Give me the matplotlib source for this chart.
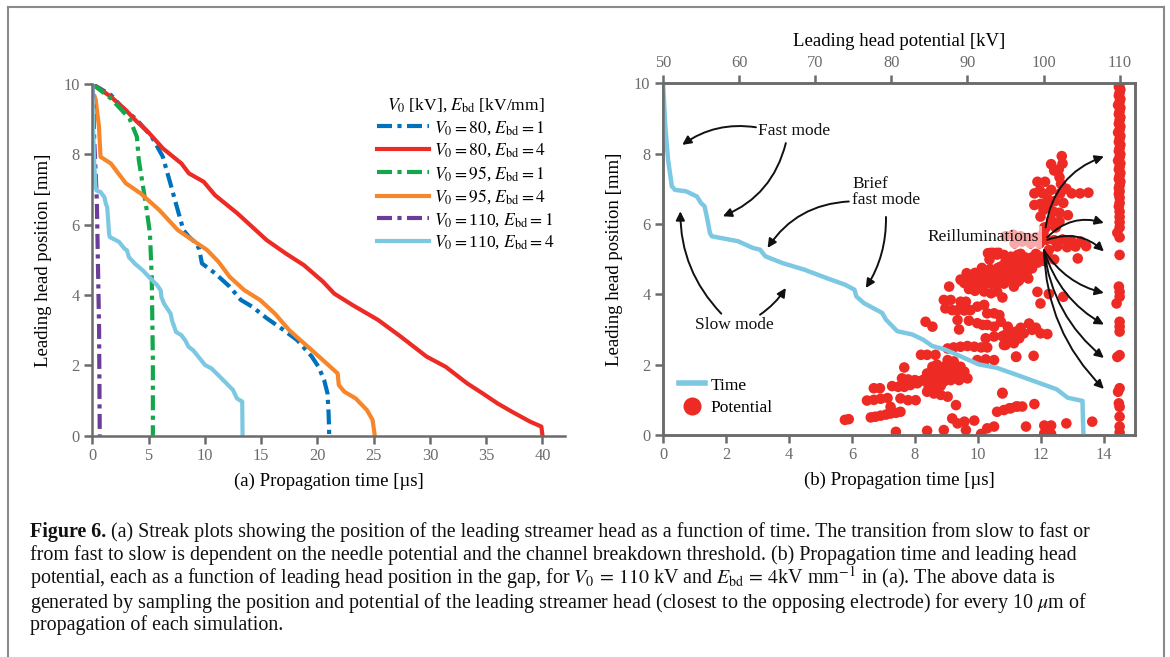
import numpy as np
import matplotlib.pyplot as plt
from matplotlib.lines import Line2D

plt.rcParams['font.family'] = ['Liberation Serif', 'DejaVu Serif']
plt.rcParams['mathtext.fontset'] = 'stix'

# (a) streak plots: propagation time [us] vs leading head position [mm]
t_80_1 = [0, 0.8, 1.65, 2.6, 3.96, 5.28, 6.27, 6.6, 6.93, 7.43, 8.09, 8.6, 9.24, 9.5,
          9.74, 10.9, 12.2, 13.2, 14.2, 15.5, 16.8, 18.2, 19.5, 20.1, 20.6, 20.9, 21.0, 21.05]
x_80_1 = [10, 9.85, 9.69, 9.35, 8.98, 8.5, 7.93, 7.55, 7.18, 6.6, 5.85, 5.65, 5.47, 5.3,
          4.9, 4.62, 4.24, 3.86, 3.67, 3.34, 3.05, 2.72, 2.25, 1.96, 1.58, 1.2, 0.6, 0]
t_80_4 = [0, 1.65, 2.97, 3.96, 4.95, 6.27, 7.92, 8.58, 9.9, 10.9, 12.9, 14.2, 15.5, 17.2,
          18.8, 20.5, 21.5, 23.1, 25.4, 27.4, 29.7, 31.4, 33.3, 34.7, 36.0, 37.3, 38.9, 39.9, 40.0]
x_80_4 = [10, 9.64, 9.26, 8.93, 8.64, 8.17, 7.74, 7.46, 7.22, 6.84, 6.32, 5.94, 5.56, 5.18,
          4.85, 4.38, 4.04, 3.72, 3.29, 2.82, 2.25, 1.96, 1.49, 1.20, 0.92, 0.68, 0.40, 0.26, 0]
t_95_1 = [0, 1.65, 3.3, 3.96, 4.13, 4.46, 4.79, 5.12, 5.28, 5.38, 5.38]
x_95_1 = [10, 9.59, 9.02, 8.5, 7.84, 7.18, 6.51, 5.76, 4.52, 2.15, 0]
t_95_4 = [0.2, 0.3, 0.59, 0.73, 1.65, 2.97, 4.29, 5.94, 7.59, 8.91, 10.2, 11.2, 12.2, 13.5,
          14.9, 16.2, 17.5, 18.8, 20.0, 20.8, 21.8, 21.9, 22.4, 23.4, 24.4, 24.9, 25.1]
x_95_4 = [9.65, 9.55, 8.79, 7.93, 7.74, 7.18, 6.89, 6.42, 5.85, 5.56, 5.28, 4.95, 4.52, 4.14,
          3.86, 3.48, 3.0, 2.63, 2.29, 2.06, 1.77, 1.44, 1.25, 1.06, 0.73, 0.45, 0]
t_110_1 = [0, 0.1, 0.17, 0.4, 0.6, 0.66]
x_110_1 = [10, 9.3, 8.4, 6.7, 3.1, 0]
t_110_4 = [0, 0.08, 0.16, 0.28, 0.38, 0.73, 1.08, 1.2, 1.32, 1.41, 1.49, 1.55, 2.38, 2.85,
           3.08, 3.25, 3.79, 4.49, 5.2, 5.79, 6.08, 6.14, 6.38, 6.96, 7.08, 7.44, 7.91, 8.26,
           8.55, 8.96, 9.44, 10.02, 10.6, 11.2, 11.79, 12.5, 12.85, 13.32, 13.35]
x_110_4 = [10, 8.68, 7.82, 7.07, 6.97, 6.93, 6.78, 6.6, 6.5, 6.12, 5.74, 5.65, 5.51, 5.32,
           5.27, 5.08, 4.89, 4.70, 4.46, 4.27, 4.13, 3.94, 3.75, 3.47, 3.28, 2.95, 2.86, 2.71,
           2.53, 2.43, 2.24, 2.01, 1.91, 1.72, 1.53, 1.30, 1.06, 0.97, 0]

# (b) leading head potential [kV] vs position [mm], V0 = 110 kV, Ebd = 4 kV/mm
pot_kv = [73.9, 74.4, 77.3, 77.9, 78.6, 79.3, 79.9, 80.6, 81.2, 80.6, 84.7, 86.9, 88.0, 88.7,
          89.6, 90.9, 89.8, 92.6, 93.5, 91.8, 93.9, 94.8, 95.7, 96.6, 88.5, 94.6,
          77.7, 78.5, 76.8, 77.7, 78.6, 79.5, 79.9, 80.1, 80.9, 81.7, 82.5, 83.4, 81.7, 81.4,
          82.2, 83.1, 83.9, 81.2, 82.2, 83.2, 84.7, 85.6, 86.5, 87.4, 84.7, 85.4, 86.1, 85.2,
          86.1, 86.7, 87.4, 88.0, 88.7, 86.9, 87.8, 88.9, 85.8, 83.9, 84.7, 85.8, 87.4, 88.2,
          89.1, 90.0, 89.6, 84.5, 85.4, 88.7, 88.9, 90.2, 91.3, 92.0, 92.6, 93.5, 92.4, 93.5,
          94.6, 95.7, 96.8, 87.4, 88.2, 89.1, 90.0, 90.9, 91.8, 92.6, 91.3, 92.4, 93.5, 96.4,
          95.0, 96.1,
          86.9, 87.8, 87.1, 88.0, 89.1, 89.8, 88.7, 89.6, 90.4, 91.3, 92.2, 92.6, 93.5, 94.2,
          87.6, 89.3, 91.1, 92.0, 92.8, 93.7, 94.6, 95.5, 91.3, 92.2, 93.1, 93.9, 94.8, 96.1,
          92.2, 93.1, 93.9, 94.6, 95.0, 96.4, 94.4, 89.1, 91.0, 91.9, 92.9, 93.9, 92.7, 94.9,
          95.9, 90.6, 89.6,
          102.4, 102.5, 101.4, 102.1, 99.2, 100.2, 102.3, 98.8, 99.9, 101.0, 102.2, 103.7,
          104.8, 105.9, 98.8, 99.6, 100.7, 102.1, 103.2, 99.6, 101.0, 102.1, 100.1, 101.6,
          95.0, 96.0, 97.0, 98.0, 99.0, 100.0, 100.3, 100.4, 99.5, 98.3, 97.2, 96.2, 94.0, 93.2,
          101.4, 102.5, 103.6, 104.9, 105.6, 101.8, 103.1, 104.2, 104.5, 100.7,
          94.8, 95.7, 96.6, 97.5, 98.5, 99.6, 100.5, 101.4, 95.0, 96.1, 97.0, 98.1, 99.2, 95.3,
          96.4, 97.4, 98.5, 94.8, 96.6, 99.2, 99.6, 100.7, 102.6,
          94.4, 95.3, 96.4, 97.4, 98.1, 98.5, 99.6, 100.5, 95.7, 94.8, 96.4, 98.7,
          94.6, 95.5, 96.4, 97.2, 98.8, 97.7, 100.1, 101.0, 103.0, 100.1, 101.0, 106.4,
          110.0, 109.9, 110.1, 110.0, 109.9, 110.1, 110.0, 109.8, 110.1, 110.0, 109.9, 110.1,
          110.0, 109.9, 110.1, 110.0, 109.8, 110.1, 110.0, 109.9, 110.1, 110.0, 109.9, 110.1,
          110.0, 109.8, 110.1, 110.0, 109.9, 110.1, 110.0, 109.9, 110.1, 110.0, 109.9, 110.0,
          109.9, 110.0, 110.0, 109.9, 110.0, 110.0, 110.0, 110.0, 109.7, 110.0, 110.0, 109.9,
          110.0, 110.0, 109.6, 110.0, 110.0, 110.0,
          110.0, 109.7, 110.0, 109.8, 109.9, 110.0, 110.0, 110.0, 110.0,
          90.5, 91.5, 92.5, 93.4, 94.2, 95.0, 95.8, 96.5, 97.2, 97.8, 93.0, 94.0, 95.2, 96.0,
          96.8, 97.6, 90.2, 91.0, 91.8, 89.9,
          85.5, 86.3, 87.0, 87.6, 84.9, 85.7, 86.5, 88.3, 84.3, 86.0, 87.0, 88.0,
          100.6, 101.5, 100.0, 101.3, 102.6, 103.0, 99.5, 102.0, 101.0,
          96.0, 97.0, 98.0, 99.0, 100.0, 95.5, 96.8, 98.0,
          95.0, 96.0, 97.0, 99.0]
pot_mm = [0.43, 0.45, 0.50, 0.52, 0.55, 0.58, 0.61, 0.63, 0.66, 0.09, 0.12, 0.14, 0.47, 0.33,
          0.38, 0.41, 0.14, 0.19, 0.24, 0.03, 0.66, 0.71, 0.76, 0.81, 0.85, 1.20,
          1.33, 1.33, 0.98, 1.00, 1.03, 1.05, 0.80, 1.39, 1.37, 1.37, 1.42, 1.47, 1.92, 1.61,
          1.58, 1.56, 1.54, 1.04, 0.99, 0.99, 1.23, 1.18, 1.14, 1.09, 1.75, 1.94, 1.85, 1.56,
          1.66, 1.75, 1.85, 1.71, 1.75, 1.52, 1.56, 1.56, 1.47, 2.28, 2.28, 2.28, 2.13, 2.09,
          1.94, 1.61, 1.80, 3.22, 3.08, 3.27, 3.00, 3.25, 3.18, 3.13, 3.13, 3.08, 2.75, 2.80,
          2.81, 2.81, 2.75, 2.46, 2.49, 2.51, 2.53, 2.51, 2.49, 2.49, 2.13, 2.15, 2.13, 2.23,
          2.56, 2.61,
          3.84, 3.84, 3.60, 3.55, 3.79, 3.79, 3.55, 3.54, 3.55, 3.65, 3.70, 3.46, 3.46, 3.41,
          4.22, 4.39, 4.58, 4.60, 4.55, 4.60, 4.55, 4.60, 4.31, 4.27, 4.31, 4.27, 4.31, 4.22,
          4.08, 4.03, 4.08, 3.91, 4.93, 4.83, 4.79, 4.42, 4.61, 4.75, 4.99, 5.13, 5.17, 4.61,
          4.89, 4.23, 4.32,
          7.93, 7.72, 7.52, 7.33, 7.20, 7.20, 7.14, 6.87, 6.87, 6.97, 6.87, 6.87,
          6.87, 6.89, 6.54, 6.57, 6.49, 6.32, 6.25, 6.21, 6.11, 6.07, 5.90, 5.90,
          5.65, 5.70, 5.65, 5.60, 5.62, 5.75, 5.90, 5.55, 5.45, 5.45, 5.50, 5.45, 5.20, 5.20,
          5.54, 5.56, 5.54, 5.50, 5.37, 5.36, 5.34, 5.36, 5.02, 5.26,
          5.12, 5.07, 5.12, 5.02, 5.05, 5.07, 5.12, 4.99, 4.83, 4.79, 4.86, 4.88, 4.90, 4.55,
          4.60, 4.64, 4.74, 4.31, 4.36, 4.07, 3.74, 4.01, 3.93,
          3.22, 3.08, 2.94, 2.89, 3.17, 2.99, 2.89, 2.87, 2.70, 2.56, 2.22, 2.25,
          1.18, 0.76, 0.81, 0.81, 0.88, 0.24, 0.27, 0.27, 0.33, 0.05, 0.03, 0.38,
          9.98, 9.9, 9.82, 9.73, 9.65, 9.55, 9.47, 9.38, 9.3, 9.2, 9.12, 9.03,
          8.95, 8.85, 8.77, 8.68, 8.6, 8.5, 8.42, 8.33, 8.25, 8.15, 8.07, 7.98,
          7.9, 7.8, 7.72, 7.63, 7.55, 7.45, 7.37, 7.28, 7.2, 7.1, 7.02, 6.93,
          6.85, 6.75, 6.6, 6.5, 6.35, 6.2, 6.05, 5.9, 5.75, 5.62, 5.12, 4.22,
          4.07, 3.93, 3.74, 3.22, 3.08, 2.94,
          2.27, 2.22, 1.33, 1.23, 0.9, 0.8, 0.52, 0.24, 0.07,
          4.45, 4.45, 4.45, 4.45, 4.42, 4.40, 4.45, 4.55, 4.70, 4.62, 4.72, 4.75, 4.70, 4.95,
          5.00, 5.05, 4.15, 4.10, 4.18, 4.60,
          1.65, 1.55, 1.65, 1.72, 1.40, 1.35, 1.40, 1.62, 1.58, 2.00, 1.95, 1.90,
          6.70, 6.65, 6.40, 6.35, 6.60, 7.00, 6.95, 7.55, 7.70,
          4.95, 5.15, 4.95, 5.15, 4.95, 4.65, 4.40, 4.45,
          2.85, 2.80, 3.05, 3.05]

pot_lim = (50, 112.07)   # 110 kV sits at 14.5 us on the time axis

gray = '#6b6b6b'
c_blue, c_red, c_green = '#0072BD', '#EE2A24', '#12A84A'
c_orange, c_purple, c_sky = '#F7862A', '#6A3D9A', '#7CC8E2'
dashdot = (0, (3.6, 1.3, 1.0, 1.3))

fig = plt.figure(figsize=(11.7, 6.57), dpi=100)

# ---------- (a)
ax1 = fig.add_axes([0.0789, 0.3368, 0.404, 0.5353])
ax1.plot(t_80_1, x_80_1, color=c_blue, lw=3, ls=dashdot, label=r'$V_0 = 80$, $E_{\rm bd} = 1$')
ax1.plot(t_80_4, x_80_4, color=c_red, lw=3, label=r'$V_0 = 80$, $E_{\rm bd} = 4$')
ax1.plot(t_95_1, x_95_1, color=c_green, lw=3, ls=dashdot, label=r'$V_0 = 95$, $E_{\rm bd} = 1$')
ax1.plot(t_95_4, x_95_4, color=c_orange, lw=3, label=r'$V_0 = 95$, $E_{\rm bd} = 4$')
ax1.plot(t_110_1, x_110_1, color=c_purple, lw=3, ls=dashdot, label=r'$V_0 =$110, $E_{\rm bd} = 1$')
ax1.plot(t_110_4, x_110_4, color=c_sky, lw=3, label=r'$V_0 =$110, $E_{\rm bd} = 4$')
ax1.set_xlim(0, 42)
ax1.set_ylim(0, 10)
ax1.set_xticks(range(0, 41, 5))
ax1.set_yticks(range(0, 11, 2))
ax1.spines[['top', 'right']].set_visible(False)
ax1.set_xlabel('(a) Propagation time [µs]', fontsize=13.5, labelpad=6)
ax1.set_ylabel('Leading head position [mm]', fontsize=13.5, labelpad=8)
leg = ax1.legend(title=r'$V_0$ [kV], $E_{\rm bd}$ [kV/mm]', loc='upper left',
                 bbox_to_anchor=(0.583, 0.99), frameon=False, fontsize=12.6,
                 title_fontsize=12.6, handlelength=3.0, handletextpad=0.25,
                 labelspacing=0.27, borderpad=0)

# ---------- (b)
ax2 = fig.add_axes([0.5667, 0.3379, 0.4037, 0.5353])
ax3 = ax2.twiny()
ax2.set_zorder(ax3.get_zorder() + 1)
ax2.patch.set_visible(False)
sc = ax3.scatter(pot_kv, pot_mm, s=58, color=c_red, edgecolors='none')
ax3.set_xlim(*pot_lim)
ax3.set_xticks(range(50, 111, 10))
ax3.set_xlabel('Leading head potential [kV]', fontsize=13.5, labelpad=6)

ln, = ax2.plot(t_110_4, x_110_4, color=c_sky, lw=3.2)
ax2.set_xlim(0, 15)
ax2.set_ylim(0, 10)
ax2.set_xticks(range(0, 15, 2))
ax2.set_yticks(range(0, 11, 2))
ax2.set_xlabel('(b) Propagation time [µs]', fontsize=13.5, labelpad=6)
ax2.set_ylabel('Leading head position [mm]', fontsize=13.5, labelpad=8)

h_time = Line2D([], [], color=c_sky, lw=4)
h_pot = Line2D([], [], color=c_red, ls='none', marker='o', ms=13, mec='none')
ax2.legend([h_time, h_pot], ['Time', 'Potential'], loc='lower left',
           bbox_to_anchor=(0.015, 0.03), frameon=False, fontsize=12.5,
           handlelength=1.5, handletextpad=0.35, labelspacing=0.35, borderpad=0)

# annotations
def arrow(ax, start, end, rad):
    ax.annotate('', xy=end, xytext=start,
                arrowprops=dict(arrowstyle='-|>', color='#111111', lw=1.4,
                                mutation_scale=13, shrinkA=0, shrinkB=0,
                                connectionstyle='arc3,rad=%s' % rad))

kw = dict(fontsize=12.5, color='#111111', va='center')
ax2.text(3.0, 8.63, 'Fast mode', **kw)
arrow(ax2, (2.95, 8.75), (0.61, 8.25), 0.2)
arrow(ax2, (3.9, 8.3), (1.9, 6.22), -0.25)
ax2.text(6.0, 6.9, 'Brief\nfast mode', linespacing=1.0, **kw)
arrow(ax2, (5.9, 6.64), (3.32, 5.32), 0.25)
arrow(ax2, (7.08, 6.2), (6.44, 4.18), -0.15)
ax2.text(1.0, 3.14, 'Slow mode', **kw)
arrow(ax2, (1.85, 3.45), (0.55, 6.36), -0.2)
arrow(ax2, (3.08, 3.42), (3.9, 4.18), 0.1)
ax2.text(11.95, 5.63, 'Reilluminations', ha='right',
         bbox=dict(facecolor='white', alpha=0.6, edgecolor='none', pad=2), **kw)
arrow(ax2, (12.15, 5.9), (14.0, 7.92), -0.3)
arrow(ax2, (12.2, 5.62), (14.0, 6.03), -0.3)
arrow(ax2, (12.2, 5.55), (14.0, 5.22), -0.3)
for y_end in [4.04, 3.14, 2.19, 1.31]:
    arrow(ax2, (12.1, 5.25), (14.0, y_end), 0.2)

for ax in (ax1, ax2, ax3):
    for s in ax.spines.values():
        s.set_color(gray)
        s.set_linewidth(1.8)
    ax.tick_params(direction='out', length=6, width=1.8, color=gray,
                   labelcolor=gray, labelsize=11.8, pad=3)
ax2.tick_params(right=False)
ax3.tick_params(axis='x', top=True, bottom=False)

# frame round the figure
W, H = 1170, 657
fcol = '#8a8a8a'
for xs, ys in [([8, 8], [H, 7]), ([8, 1164], [7, 7]), ([1164, 1164], [7, H])]:
    fig.add_artist(Line2D([x / W for x in xs], [1 - y / H for y in ys],
                          transform=fig.transFigure, color=fcol, lw=1.5))

# caption
cap_size = 14.4
lines = [
    ' (a) Streak plots showing the position of the leading streamer head as a function of time. The transition from slow to fast or',
    'from fast to slow is dependent on the needle potential and the channel breakdown threshold. (b) Propagation time and leading head',
    r'potential, each as a function of leading head position in the gap, for $V_0\,=\,110$ kV and $E_{\rm bd}\,=\,4$kV mm$^{-1}$ in (a). The above data is',
    r'generated by sampling the position and potential of the leading streamer head (closest to the opposing electrode) for every 10 $\mu$m of',
    'propagation of each simulation.',
]
ys = [532.5, 555, 577.5, 603, 625]
r = fig.canvas.get_renderer()
head = fig.text(30 / W, 1 - ys[0] / H, 'Figure 6.', fontsize=cap_size, fontweight='bold',
                va='center', color='#111111')
x_after = head.get_window_extent(r).x1 / W
for i, (txt, y) in enumerate(zip(lines, ys)):
    x = x_after if i == 0 else 30 / W
    fig.text(x, 1 - y / H, txt, fontsize=cap_size, va='center', color='#111111')

fig.savefig('out.png', dpi=100)
